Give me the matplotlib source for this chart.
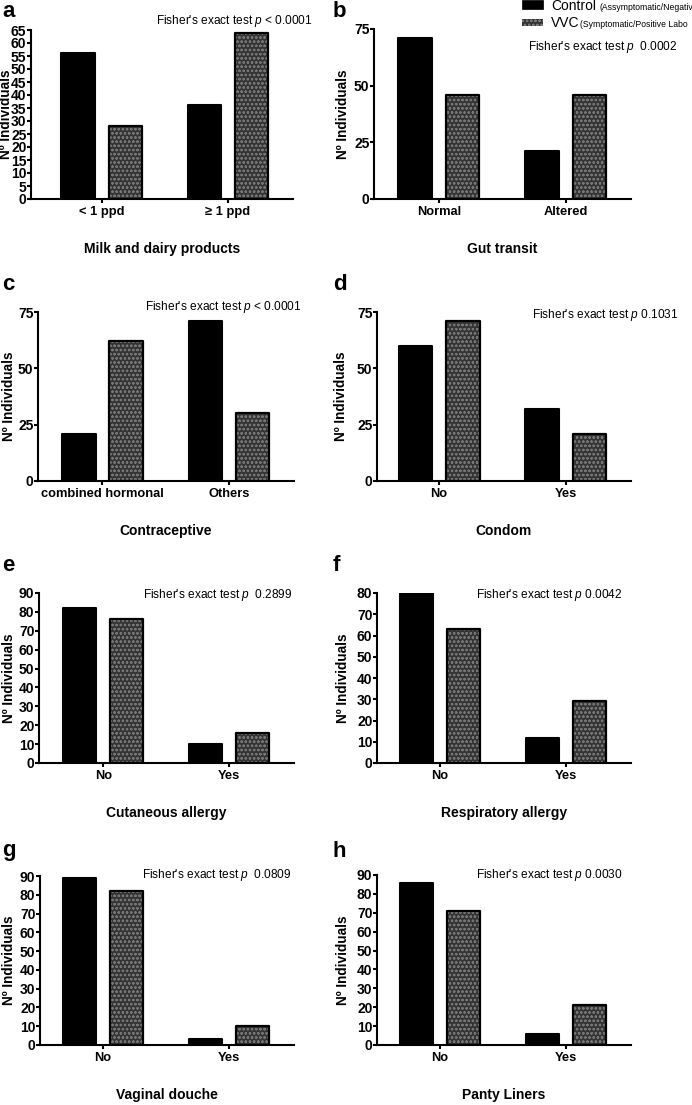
import matplotlib
matplotlib.use("Agg")
import matplotlib.pyplot as plt
from matplotlib.patches import Rectangle
import numpy as np

plt.rcParams['font.family'] = ['Liberation Sans', 'DejaVu Sans']
plt.rcParams['mathtext.fontset'] = 'custom'
plt.rcParams['mathtext.it'] = 'Liberation Sans:italic'
plt.rcParams['mathtext.rm'] = 'Liberation Sans'

W, H = 692, 1105

# ---- data ----
letters = ['a', 'b', 'c', 'd', 'e', 'f', 'g', 'h']
xlabels = ['Milk and dairy products', 'Gut transit', 'Contraceptive', 'Condom',
           'Cutaneous allergy', 'Respiratory allergy', 'Vaginal douche', 'Panty Liners']
categories = [['< 1 ppd', '\u2265 1 ppd'], ['Normal', 'Altered'],
              ['combined hormonal', 'Others'], ['No', 'Yes'],
              ['No', 'Yes'], ['No', 'Yes'], ['No', 'Yes'], ['No', 'Yes']]
control = [[56, 36], [71, 21], [21, 71], [60, 32], [82, 10], [80, 12], [89, 3], [86, 6]]
vvc = [[28, 64], [46, 46], [62, 30], [71, 21], [76, 16], [63, 29], [82, 10], [71, 21]]
ymax = [65, 75, 75, 75, 90, 80, 90, 90]
ystep = [5, 25, 25, 25, 10, 10, 10, 10]
fisher = ["Fisher's exact test $p$ < 0.0001", "Fisher's exact test $p$  0.0002",
          "Fisher's exact test $p$ < 0.0001", "Fisher's exact test $p$ 0.1031",
          "Fisher's exact test $p$  0.2899", "Fisher's exact test $p$ 0.0042",
          "Fisher's exact test $p$  0.0809", "Fisher's exact test $p$ 0.0030"]

# ---- layout (pixels) ----
axes_px = [(31, 293, 30, 199), (374, 631, 29, 199),
           (38, 294, 312, 481), (377, 631, 312, 481),
           (39, 294, 593, 763), (377, 631, 593, 763),
           (40, 294, 876, 1045), (377, 631, 875, 1045)]
xlim_left = [-0.56, -0.51, -0.51, -0.49, -0.51, -0.50, -0.50, -0.50]
ylabel_gap = [18, 24, 22, 29, 23, 27, 24, 27]
fisher_px = [(313, 21), (678, 47), (302, 307), (678, 315),
             (293, 595), (622, 595), (292, 875), (622, 875)]
letter_px = [(2, 17), (333, 17), (2, 290), (333, 290),
             (2, 571), (333, 571), (2, 856), (333, 857)]

width = 0.265
offset = 0.187
hatch_face = '#343434'
hatch_line = '#757575'

plt.rcParams['hatch.linewidth'] = 0.6

fig = plt.figure(figsize=(W / 100, H / 100), dpi=100)


def fx(x):
    return x / W


def fy(y):
    return 1 - y / H


for i in range(8):
    l, r, t, b = axes_px[i]
    ax = fig.add_axes([fx(l), fy(b), (r - l) / W, (b - t) / H])
    x = np.arange(len(categories[i]))

    ax.bar(x - offset, control[i], width, color='black', edgecolor='black',
           linewidth=1.5, joinstyle='round', zorder=3)
    ax.bar(x + offset, vvc[i], width, color=hatch_face, edgecolor=hatch_line,
           hatch='oooo', linewidth=0, zorder=3)
    ax.bar(x + offset, vvc[i], width, fill=False, edgecolor='black',
           linewidth=1.6, joinstyle='round', zorder=4)

    ax.set_xlim(xlim_left[i], 1.515)
    ax.set_ylim(0, ymax[i])
    ax.set_yticks(np.arange(0, ymax[i] + 1, ystep[i]))
    ax.set_xticks(x)
    ax.set_xticklabels(categories[i])

    for s in ['top', 'right']:
        ax.spines[s].set_visible(False)
    for s in ['left', 'bottom']:
        ax.spines[s].set_linewidth(1.5)
        ax.spines[s].set_zorder(5)
    ax.tick_params(axis='both', direction='out', length=3, width=1.5)
    ax.tick_params(axis='y', labelsize=10, pad=0.3)
    ax.tick_params(axis='x', labelsize=9.3, pad=2)
    for lab in ax.get_xticklabels() + ax.get_yticklabels():
        lab.set_fontweight('bold')

    ax.set_ylabel('N\u00ba Individuals', fontsize=9.8, fontweight='bold')
    ax.yaxis.set_label_coords(-ylabel_gap[i] / (r - l), 0.5)
    ax.set_xlabel(xlabels[i], fontsize=10, fontweight='bold', va='center')
    ax.xaxis.set_label_coords(0.5, -50 / (b - t))

    fxp, fyp = fisher_px[i]
    fig.text(fx(fxp), fy(fyp), fisher[i], fontsize=8.6, ha='right', va='center')

    lx, ly = letter_px[i]
    fig.text(fx(lx), fy(ly), letters[i], fontsize=16, fontweight='bold',
             ha='left', va='baseline')

# ---- legend ----
fig.patches.append(Rectangle((fx(522), fy(9)), 21 / W, 9 / H, transform=fig.transFigure,
                             facecolor='black', edgecolor='black', linewidth=0.5))
fig.patches.append(Rectangle((fx(522), fy(26)), 21 / W, 7 / H, transform=fig.transFigure,
                             facecolor=hatch_face, edgecolor=hatch_line, hatch='oooo',
                             linewidth=0))
fig.text(fx(551), fy(10), 'Control', fontsize=10, ha='left', va='baseline')
fig.text(fx(600), fy(10), '(Assymptomatic/Negativ', fontsize=6.2, ha='left', va='baseline')
fig.text(fx(551), fy(27), 'VVC', fontsize=10, ha='left', va='baseline')
fig.text(fx(580), fy(27), '(Symptomatic/Positive Labo', fontsize=6.2, ha='left', va='baseline')

plt.savefig('out.png', dpi=100)
plt.close()
